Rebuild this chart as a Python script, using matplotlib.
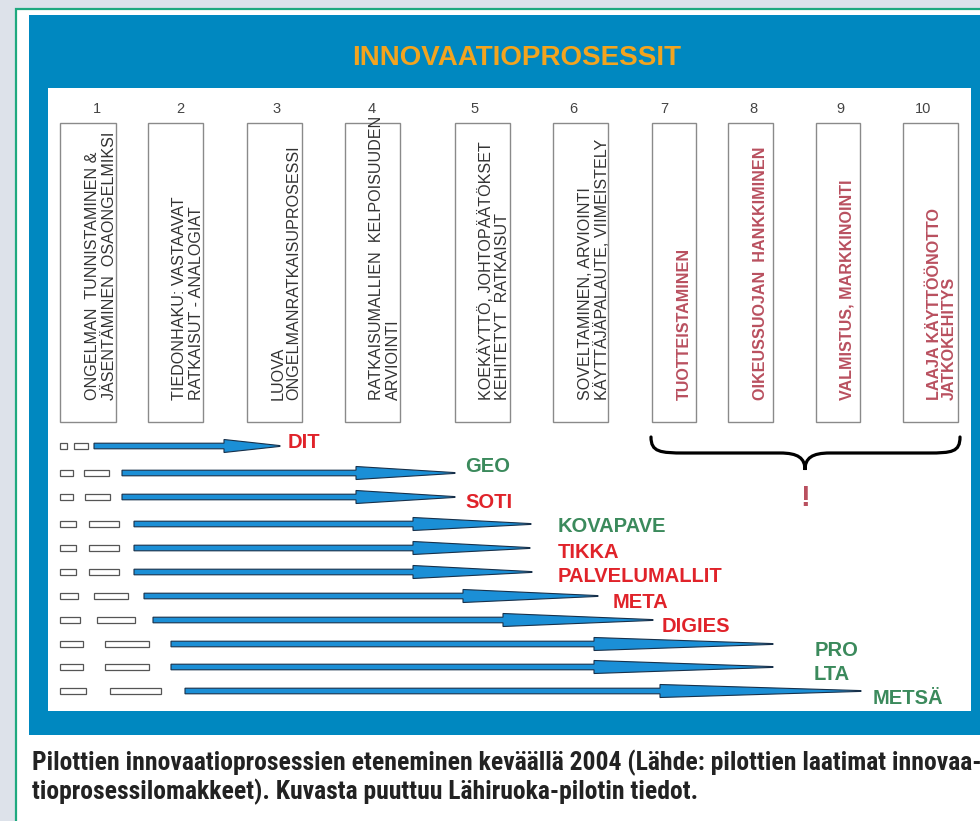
import matplotlib
matplotlib.use("Agg")
import matplotlib.pyplot as plt
from matplotlib import font_manager
from matplotlib.patches import Rectangle, Polygon, PathPatch
from matplotlib.path import Path


def pick_font(names, default="Liberation Sans"):
    for n in names:
        try:
            font_manager.findfont(n, fallback_to_default=False)
            return n
        except Exception:
            pass
    return default


SANS = pick_font(["Liberation Sans", "Arial"], "DejaVu Sans")
NARROW = pick_font(["Liberation Sans Narrow", "DejaVu Sans Condensed", "Roboto Condensed"], SANS)

title = "INNOVAATIOPROSESSIT"

# process steps (number, text, highlighted?)
step_nums = ["1", "2", "3", "4", "5", "6", "7", "8", "9", "10"]
step_texts = [
    "ONGELMAN  TUNNISTAMINEN &\nJÄSENTÄMINEN  OSAONGELMIKSI",
    "TIEDONHAKU: VASTAAVAT\nRATKAISUT - ANALOGIAT",
    "LUOVA\nONGELMANRATKAISUPROSESSI",
    "RATKAISUMALLIEN  KELPOISUUDEN\nARVIOINTI",
    "KOEKÄYTTÖ, JOHTOPÄÄTÖKSET\nKEHITETYT  RATKAISUT",
    "SOVELTAMINEN, ARVIOINTI\nKÄYTTÄJÄPALAUTE, VIIMEISTELY",
    "TUOTTEISTAMINEN",
    "OIKEUSSUOJAN  HANKKIMINEN",
    "VALMISTUS, MARKKINOINTI",
    "LAAJA KÄYTTÖÖNOTTO\nJATKOKEHITYS",
]
step_bold = [False] * 6 + [True] * 4

# pilots and how far their process has got (arrow tip)
pilots = ["DIT", "GEO", "SOTI", "KOVAPAVE", "TIKKA", "PALVELUMALLIT",
          "META", "DIGIES", "PRO", "LTA", "METSÄ"]
pilot_colors = ["r", "g", "r", "g", "r", "r", "r", "r", "g", "g", "g"]
arrow_tip = [280, 455, 455, 531, 530, 532, 598, 653, 773, 773, 861]

# layout (pixels)
row_y = [446, 473, 497, 524, 548, 572, 596, 620, 644, 667, 691]
box1_end = [67, 73, 73, 76, 76, 76, 78, 80, 83, 83, 86]
box2 = [(74, 88), (84, 109), (85, 110), (89, 119), (89, 119), (89, 119),
        (94, 128), (97, 135), (105, 149), (105, 149), (110, 161)]
shaft_x0 = [94, 122, 122, 134, 134, 134, 144, 153, 171, 171, 185]
head_x0 = [224, 356, 356, 413, 413, 413, 463, 503, 594, 594, 660]
label_xy = [(288, 443), (465, 467), (465, 502), (558, 527), (558, 552),
            (558, 577), (613, 602), (662, 626), (815, 650), (814, 675), (873, 698)]

step_box_x = [(60, 116), (148, 203), (247, 302), (345, 400), (455, 510),
              (553, 608), (652, 696), (728, 773), (816, 860), (903, 958)]
num_x = [97, 180, 277, 372, 475, 573, 664, 753, 840, 923]
text_x = [101, 188, 286, 385, 494, 594, 684, 760, 847, 942]

BLUE = "#0088c0"
ORANGE = "#f2a41f"
ROSE = "#b9505f"
RED = "#e0232a"
GREEN = "#3b8a5c"
ARROW = "#1b8fd6"
colmap = {"r": RED, "g": GREEN}

fig = plt.figure(figsize=(9.8, 8.21), dpi=100)
ax = fig.add_axes([0, 0, 1, 1])
ax.set_xlim(0, 980)
ax.set_ylim(821, 0)
ax.axis("off")
fig.patch.set_facecolor("#dde2ea")

# frames
ax.add_patch(Rectangle((15.5, 9), 1000, 900, facecolor="white", edgecolor="#1fa97f", lw=1.6))
ax.add_patch(Rectangle((29, 15), 1000, 720, facecolor=BLUE, edgecolor="none"))
ax.add_patch(Rectangle((48, 88), 923, 623, facecolor="white", edgecolor="none"))

ax.text(517, 58, title, color=ORANGE, fontsize=20, fontweight="bold",
        family=SANS, ha="center", va="center")

# step boxes
for i in range(len(step_nums)):
    x0, x1 = step_box_x[i]
    ax.add_patch(Rectangle((x0, 123), x1 - x0, 299, facecolor="white",
                           edgecolor="#8a8a8a", lw=1.0))
    ax.text(num_x[i], 109, step_nums[i], color="#444444", fontsize=10.5,
            family=SANS, ha="center", va="center")
    if step_bold[i]:
        ax.text(text_x[i], 400, step_texts[i], color=ROSE, fontsize=11.6,
                fontweight="bold", family=SANS, rotation=90, ha="center",
                va="bottom", linespacing=0.95, multialignment="left")
    else:
        ax.text(text_x[i], 400, step_texts[i], color="#333333", fontsize=11.6,
                family=SANS, rotation=90, ha="center", va="bottom",
                linespacing=1.12, multialignment="left")

# brace over steps 7-10
verts = [(651, 437), (651, 452), (660, 453), (685, 453),
         (780, 453),
         (798, 453), (805, 458), (805, 470),
         (805, 458), (812, 453), (830, 453),
         (928, 453),
         (952, 453), (960, 452), (960, 437)]
codes = [Path.MOVETO, Path.CURVE4, Path.CURVE4, Path.CURVE4,
         Path.LINETO,
         Path.CURVE4, Path.CURVE4, Path.CURVE4,
         Path.CURVE4, Path.CURVE4, Path.CURVE4,
         Path.LINETO,
         Path.CURVE4, Path.CURVE4, Path.CURVE4]
ax.add_patch(PathPatch(Path(verts, codes), facecolor="none", edgecolor="black",
                       lw=2.3, capstyle="round"))
ax.text(805, 498, "!", color=ROSE, fontsize=21, fontweight="bold", family=SANS,
        ha="center", va="center")

# pilot rows
for i, name in enumerate(pilots):
    y = row_y[i]
    ax.add_patch(Rectangle((60, y - 3), box1_end[i] - 60, 6, facecolor="white",
                           edgecolor="#555555", lw=0.9))
    ax.add_patch(Rectangle((box2[i][0], y - 3), box2[i][1] - box2[i][0], 6,
                           facecolor="white", edgecolor="#555555", lw=0.9))
    sx, hx, tx = shaft_x0[i], head_x0[i], arrow_tip[i]
    pts = [(sx, y - 2.8), (hx, y - 2.8), (hx, y - 6.5), (tx, y - 0.4),
           (tx, y + 0.4), (hx, y + 6.5), (hx, y + 2.8), (sx, y + 2.8)]
    ax.add_patch(Polygon(pts, closed=True, facecolor=ARROW,
                         edgecolor="#17304a", lw=0.8))
    lx, ly = label_xy[i]
    ax.text(lx, ly, name, color=colmap[pilot_colors[i]], fontsize=14.5,
            fontweight="bold", family=SANS, ha="left", va="center")

cap1 = ax.text(32, 763, "Pilottien innovaatioprosessien eteneminen keväällä 2004 "
               "(Lähde: pilottien laatimat innovaa-", color="#222222",
               fontsize=16, fontweight="bold", family=NARROW, ha="left", va="center")
cap2 = ax.text(32, 792, "tioprosessilomakkeet). Kuvasta puuttuu Lähiruoka-pilotin tiedot.",
               color="#222222", fontsize=16, fontweight="bold", family=NARROW,
               ha="left", va="center")

# fit caption width to the picture
fig.canvas.draw()
w = cap1.get_window_extent().width
fs = 16 * 946.0 / w
cap1.set_fontsize(fs)
cap2.set_fontsize(fs)

fig.savefig("out.png", dpi=100, facecolor=fig.get_facecolor())
